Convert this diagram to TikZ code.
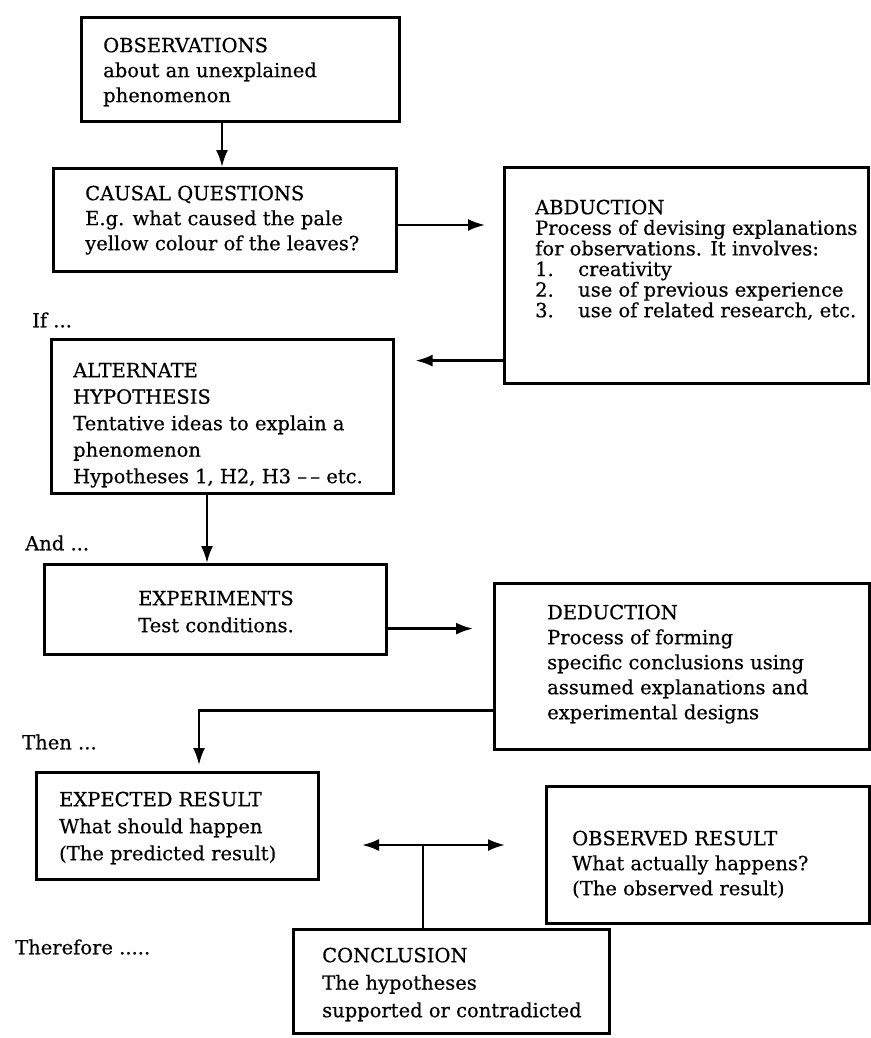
\documentclass[tikz,border=0pt]{standalone}
\usepackage{fontspec}
\setmainfont{DejaVu Serif}[FakeBold=0.5]
\usetikzlibrary{arrows.meta,calc}
\newcommand\fl{\rule{0pt}{16pt}}
\begin{document}
\begin{tikzpicture}[x=1pt,y=-1pt,
  frame/.style={draw, line width=2.6pt, inner sep=0pt, anchor=north west},
  txt/.style={anchor=north west, inner sep=0pt, align=left,
    font={\fontsize{19.5}{#1}\selectfont\lineskiplimit=-40pt\lineskip=0pt}},
  lbl/.style={anchor=west, inner sep=0pt, font={\fontsize{19.5}{24}\selectfont}},
  link/.style={line width=2.4pt},
  arr/.style={link, -{Latex[length=17pt,width=12pt]}},
  darr/.style={link, {Latex[length=17pt,width=12pt]}-{Latex[length=17pt,width=12pt]}}
]
\useasboundingbox[fill=white] (0,0) rectangle (870,1038);

% boxes
\node[frame, minimum width=318, minimum height=104] (obs) at (80,16) {};
\node[frame, minimum width=343, minimum height=103] (cq) at (52,167) {};
\node[frame, minimum width=364, minimum height=216] (abd) at (503,166) {};
\node[frame, minimum width=342, minimum height=154] (alt) at (50,338) {};
\node[frame, minimum width=342, minimum height=90] (exp) at (43,563) {};
\node[frame, minimum width=375, minimum height=166] (ded) at (493,582) {};
\node[frame, minimum width=282, minimum height=107] (expd) at (35,771) {};
\node[frame, minimum width=323, minimum height=137] (obsd) at (545,785) {};
\node[frame, minimum width=316, minimum height=104] (conc) at (292,928) {};

% texts
\node[txt=25] (obs-t) at (103,36) {\fl OBSERVATIONS\\about an unexplained\\phenomenon};
\node[txt=25] (cq-t) at (85,184) {\fl CAUSAL QUESTIONS\\E.g. what caused the pale\\yellow colour of the leaves?};
\node[txt=20.6] (abd-t) at (535,198) {\fl ABDUCTION\\Process of devising explanations\\for observations. It involves:\\
  \makebox[43pt][l]{1.}creativity\\\makebox[43pt][l]{2.}use of previous experience\\\makebox[43pt][l]{3.}use of related research, etc.};
\node[txt=26.5] (alt-t) at (73,361) {\fl ALTERNATE\\HYPOTHESIS\\Tentative ideas to explain a\\phenomenon\\Hypotheses 1, H2, H3 --\,-- etc.};
\node[txt=27, anchor=north, align=center] (exp-t) at (216,589) {\fl EXPERIMENTS\\Test conditions.};
\node[txt=25] (ded-t) at (547,603) {\fl DEDUCTION\\Process of forming\\specific conclusions using\\assumed explanations and\\experimental designs};
\node[txt=27] (expd-t) at (59,790) {\fl EXPECTED RESULT\\What should happen\\(The predicted result)};
\node[txt=25] (obsd-t) at (572,829) {\fl OBSERVED RESULT\\What actually happens?\\(The observed result)};
\node[txt=27.5] (conc-t) at (322,946) {\fl CONCLUSION\\The hypotheses\\supported or contradicted};

% side labels
\node[lbl] (if) at (32,320) {If ...};
\node[lbl] (and) at (25,543) {And ...};
\node[lbl] (then) at (22,742) {Then ...};
\node[lbl] (therefore) at (15,947) {Therefore .....};

% connectors
\draw[arr] ($(obs.south west)+(142,0)$) -- ($(cq.north west)+(170,0)$);
\coordinate (p0) at ($(cq.north east)+(0,58)$);
\draw[arr, shorten >=18pt] (p0) -- (p0 -| abd.west);
\coordinate (p1) at ($(abd.south west)+(0,-24)$);
\draw[arr, shorten >=21pt] (p1) -- (p1 -| alt.east);
\draw[arr] ($(alt.south west)+(157,0)$) -- ($(exp.north west)+(164,0)$);
\coordinate (p2) at ($(exp.south east)+(0,-27)$);
\draw[arr, shorten >=20pt] (p2) -- (p2 -| ded.west);
\coordinate (p3) at ($(ded.south west)+(0,-40)$);
\coordinate (p4) at ($(expd.north west)+(164,0)$);
\draw[arr, shorten >=6pt] (p3) -| (p4);
\coordinate (dl) at (362,845);
\coordinate (dr) at (505,845);
\draw[darr] (dl) -- (dr);
\coordinate (cj) at (423,845);
\draw[link] (cj) -- (cj |- conc.north);
\end{tikzpicture}
\end{document}
